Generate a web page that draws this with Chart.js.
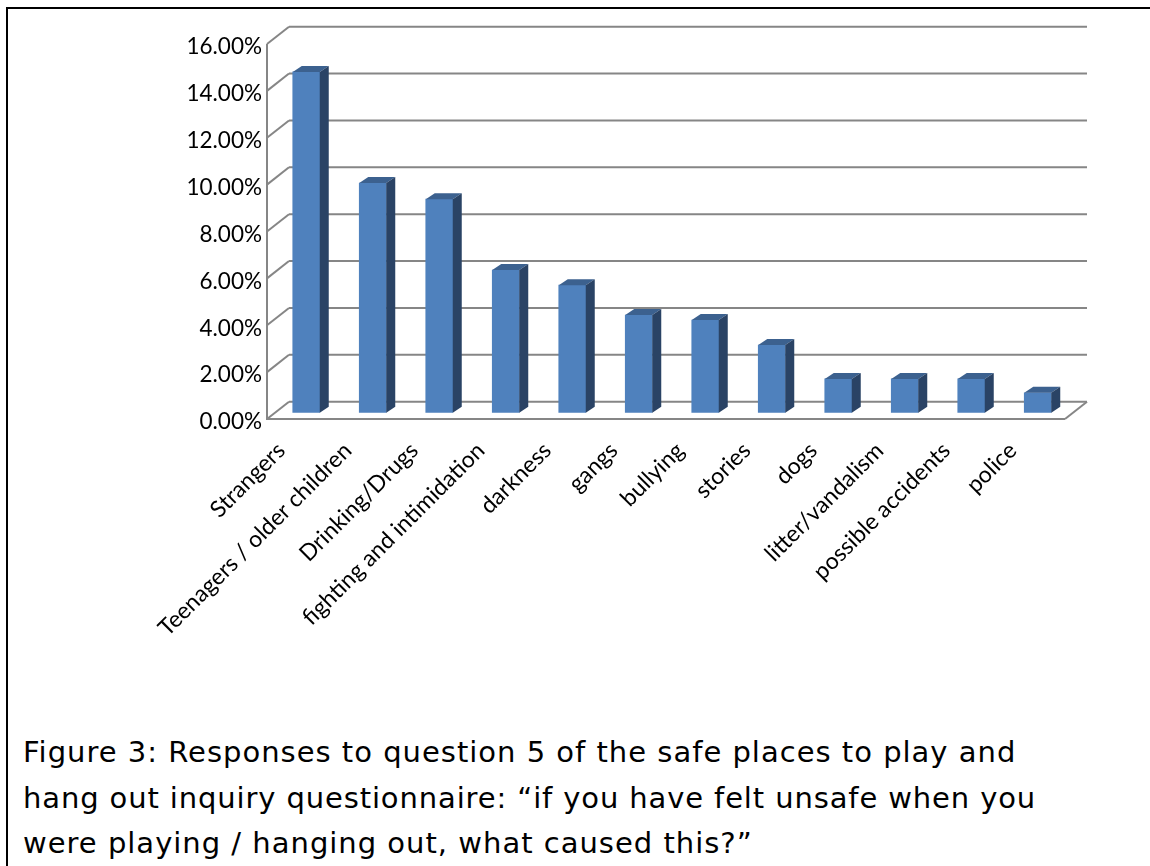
<!DOCTYPE html>
<html>
<head>
<meta charset="utf-8">
<title>Figure 3</title>
<script src="https://cdn.jsdelivr.net/npm/chart.js@4"></script>
<style>
  html, body { margin: 0; padding: 0; background: #fff; }
  #page { position: relative; width: 1150px; height: 866px; overflow: hidden; }
  #frame { position: absolute; left: 6px; top: 7px; width: 1160px; height: 880px; border-left: 2px solid #000; border-top: 2px solid #000; box-sizing: border-box; }
  #wrap { position: absolute; left: 0; top: 0; width: 1150px; height: 700px; }
  #caption { position: absolute; left: 23px; top: 729px; width: 1120px; font: 29px/46px "DejaVu Sans", sans-serif; letter-spacing: 1px; color: #000; white-space: nowrap; }
</style>
</head>
<body>
<div id="page">
  <div id="frame"></div>
  <div id="wrap"><canvas id="chart" width="1150" height="700"></canvas></div>
  <div id="caption">Figure 3: Responses to question 5 of the safe places to play and<br><span style="letter-spacing:0.88px">hang out inquiry questionnaire: “if you have felt unsafe when you</span><br><span style="position:relative;top:-1px">were playing / hanging out, what caused this?”</span></div>
</div>
<script>
const categories = ['Strangers', 'Teenagers / older children', 'Drinking/Drugs', 'fighting and intimidation',
  'darkness', 'gangs', 'bullying', 'stories', 'dogs', 'litter/vandalism', 'possible accidents', 'police'];
const percentages = [14.54, 9.8, 9.11, 6.09, 5.44, 4.17, 3.95, 2.89, 1.44, 1.44, 1.44, 0.85];
const tickValues = [0, 2, 4, 6, 8, 10, 12, 14, 16];

const WALL_DX = 22, WALL_DY = 17.3;   // floor depth of the fake 3d box
const BAR_DX = 6, BAR_DY = 6.3;       // bars stand a bit behind the front edge
const SIDE_DX = 9, SIDE_DY = 6;       // depth of each bar
const GRID = '#868686';

function line(ctx, x1, y1, x2, y2, color, width) {
  ctx.strokeStyle = color;
  ctx.lineWidth = width;
  ctx.beginPath();
  ctx.moveTo(x1, y1);
  ctx.lineTo(x2, y2);
  ctx.stroke();
}

function poly(ctx, pts, color) {
  ctx.fillStyle = color;
  ctx.beginPath();
  pts.forEach((p, i) => i ? ctx.lineTo(p[0], p[1]) : ctx.moveTo(p[0], p[1]));
  ctx.closePath();
  ctx.fill();
}

// back wall, left wall and floor
const box3d = {
  id: 'box3d',
  beforeDatasetsDraw(chart) {
    const { ctx, scales: { x, y } } = chart;
    const left = x.left, right = x.right;
    ctx.save();
    for (const v of tickValues) {
      const py = y.getPixelForValue(v);
      line(ctx, left, py, left + WALL_DX, py - WALL_DY, GRID, 2);
      line(ctx, left + WALL_DX, py - WALL_DY, right + WALL_DX, py - WALL_DY, GRID, 2);
    }
    const y0 = y.getPixelForValue(0);
    line(ctx, left, y.getPixelForValue(16), left, y0, GRID, 2);
    line(ctx, left - 1, y0, right, y0, GRID, 2);
    line(ctx, right, y0, right + WALL_DX, y0 - WALL_DY, GRID, 2);
    ctx.restore();
  },
  // move the bars back on the floor, then add top and side faces
  beforeDatasetDraw(chart) {
    chart.ctx.save();
    chart.ctx.translate(BAR_DX, -BAR_DY);
  },
  afterDatasetDraw(chart, args) {
    const ctx = chart.ctx;
    for (const bar of args.meta.data) {
      const hw = bar.width / 2;
      const l = bar.x - hw, r = bar.x + hw, t = bar.y, b = bar.base;
      poly(ctx, [[l, t], [r, t], [r + SIDE_DX, t - SIDE_DY], [l + SIDE_DX, t - SIDE_DY]], '#3c618f');
      poly(ctx, [[r, t], [r + SIDE_DX, t - SIDE_DY], [r + SIDE_DX, b - SIDE_DY], [r, b]], '#2a4365');
    }
    ctx.restore();
  }
};

new Chart(document.getElementById('chart'), {
  type: 'bar',
  data: {
    labels: categories,
    datasets: [{
      data: percentages,
      backgroundColor: '#4f81bd',
      borderWidth: 0,
      barThickness: 27
    }]
  },
  options: {
    responsive: false,
    animation: false,
    layout: { padding: { left: 0, top: 44, right: 85, bottom: 0 } },
    plugins: { legend: { display: false }, tooltip: { enabled: false }, title: { display: false } },
    scales: {
      x: {
        afterFit(s) { s.height = 700 - 419; },
        grid: { display: false },
        border: { display: false },
        ticks: {
          autoSkip: false,
          minRotation: 45,
          maxRotation: 45,
          padding: 10,
          labelOffset: -19,
          color: '#000',
          font: { family: 'Lato', size: 23 }
        }
      },
      y: {
        min: 0,
        max: 16,
        afterFit(s) {
          s.width = 267;
          // Lato sits high on the middle baseline, nudge the labels down and right
          if (!s._nudged) {
            const draw = s.drawLabels;
            s.drawLabels = function (area) {
              this.ctx.save();
              this.ctx.translate(8, 3);
              draw.call(this, area);
              this.ctx.restore();
            };
            s._nudged = true;
          }
        },
        grid: { display: false },
        border: { display: false },
        afterBuildTicks(s) { s.ticks = tickValues.map(v => ({ value: v })); },
        ticks: {
          padding: 5,
          color: '#000',
          font: { family: 'Lato', size: 22.5 },
          callback: v => v.toFixed(2) + '%'
        }
      }
    }
  },
  plugins: [box3d]
});
</script>
</body>
</html>
